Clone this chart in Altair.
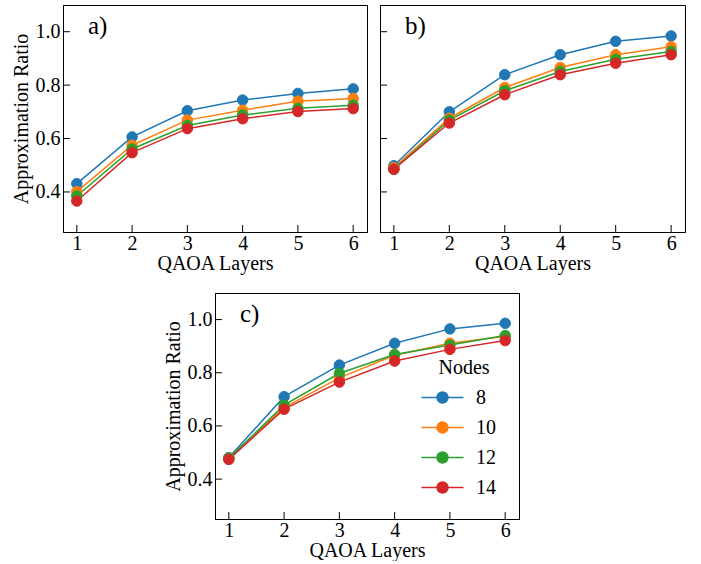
import altair as alt
import pandas as pd

FONT = "Liberation Serif"

layers = [1, 2, 3, 4, 5, 6]
node_counts = ["8", "10", "12", "14"]
colors = ["#1f77b4", "#ff7f0e", "#2ca02c", "#d62728"]
y_ticks = [0.4, 0.6, 0.8, 1.0]

ratio_a = {
    "8":  [0.431, 0.606, 0.704, 0.744, 0.769, 0.786],
    "10": [0.401, 0.575, 0.669, 0.706, 0.740, 0.750],
    "12": [0.385, 0.561, 0.649, 0.688, 0.713, 0.725],
    "14": [0.366, 0.547, 0.637, 0.674, 0.701, 0.712],
}
ratio_b = {
    "8":  [0.498, 0.700, 0.839, 0.914, 0.964, 0.984],
    "10": [0.491, 0.676, 0.791, 0.866, 0.914, 0.944],
    "12": [0.485, 0.669, 0.779, 0.851, 0.897, 0.926],
    "14": [0.485, 0.658, 0.764, 0.839, 0.882, 0.914],
}
ratio_c = {
    "8":  [0.481, 0.710, 0.829, 0.911, 0.965, 0.986],
    "10": [0.479, 0.669, 0.781, 0.866, 0.911, 0.937],
    "12": [0.478, 0.678, 0.798, 0.869, 0.904, 0.940],
    "14": [0.474, 0.663, 0.765, 0.844, 0.888, 0.921],
}

# legend glyph: a short line with a dot in the middle
LEGEND_GLYPH = ("M-2,0H2"
                "M0.52,0A0.52,0.52 0 1,1 -0.52,0A0.52,0.52 0 1,1 0.52,0Z")

TICK_LEN = 7


def long_table(ratios):
    rows = []
    for n in node_counts:
        for layer, r in zip(layers, ratios[n]):
            rows.append({"layer": layer, "ratio": r, "nodes": n})
    return pd.DataFrame(rows)


def panel(ratios, tag, width, height, y_labels=True, legend=False):
    df = long_table(ratios)
    x_axis = alt.Axis(values=layers, format="d", title="QAOA Layers",
                      labelPadding=1, titlePadding=0)
    y_axis = alt.Axis(values=y_ticks, format=".1f", labels=y_labels,
                      title="Approximation Ratio" if y_labels else None)
    x_scale = alt.Scale(domain=[0.75, 6.25], nice=False, zero=False)
    y_scale = alt.Scale(domain=[0.25, 1.1], nice=False, zero=False)
    x = alt.X("layer:Q", scale=x_scale, axis=x_axis)
    y = alt.Y("ratio:Q", scale=y_scale, axis=y_axis)

    color_scale = alt.Scale(domain=node_counts, range=colors)
    if legend:
        leg = alt.Legend(
            title="Nodes", orient="none", legendX=216, legendY=65,
            direction="vertical", symbolType=LEGEND_GLYPH, symbolSize=441,
            symbolStrokeWidth=1.5, labelOffset=22, rowPadding=8,
            titlePadding=8, padding=0, titleAnchor="middle",
            titleFont=FONT, titleFontSize=20, titleFontWeight="normal",
            titleColor="black", labelFont=FONT, labelFontSize=20,
            labelColor="black",
        )
    else:
        leg = None

    base = alt.Chart(df)
    lines = base.mark_line(strokeWidth=1.5).encode(
        x=x, y=y,
        stroke=alt.Stroke("nodes:N", scale=color_scale, legend=leg),
    )
    points = base.mark_point(filled=True, size=110, opacity=1,
                             strokeWidth=1).encode(
        x=x, y=y,
        fill=alt.Fill("nodes:N", scale=color_scale, legend=leg),
        stroke=alt.Stroke("nodes:N", scale=color_scale, legend=leg),
    )

    # inward-pointing ticks on the left and bottom spines
    ytick = alt.Chart(pd.DataFrame({"ratio": y_ticks})).mark_rule(
        color="black", strokeWidth=1).encode(
        y=y, x=alt.value(0), x2=alt.value(TICK_LEN))
    xtick = alt.Chart(pd.DataFrame({"layer": layers})).mark_rule(
        color="black", strokeWidth=1).encode(
        x=x, y=alt.value(height), y2=alt.value(height - TICK_LEN))

    label = alt.Chart(pd.DataFrame({"t": [tag]})).mark_text(
        font=FONT, fontSize=25, align="left", baseline="alphabetic",
        color="black").encode(text="t:N", x=alt.value(25), y=alt.value(29))

    return alt.layer(lines, points, ytick, xtick, label).properties(
        width=width, height=height)


a = panel(ratio_a, "a)", 304, 227)
b = panel(ratio_b, "b)", 305, 227, y_labels=False)
c = panel(ratio_c, "c)", 304, 226, legend=True)

spacer = alt.Chart(pd.DataFrame({"v": [0]})).mark_point(opacity=0).encode(
    x=alt.X("v:Q", axis=None), y=alt.Y("v:Q", axis=None)
).properties(width=98, height=10,
             view=alt.ViewBackground(stroke="transparent"))

indep = dict(x="independent", y="independent",
             stroke="independent", fill="independent")

top = alt.hconcat(a, b, spacing=11).resolve_scale(**indep)
bottom = alt.hconcat(spacer, c, spacing=0).resolve_scale(**indep)

chart = (
    alt.vconcat(top, bottom, spacing=18)
    .resolve_scale(**indep)
    .properties(padding={"left": 10, "top": 4, "right": 0, "bottom": 0},
                background="white")
    .configure_view(stroke="black", strokeWidth=1)
    .configure_axis(
        grid=False, ticks=False, domainColor="black", domainWidth=1,
        labelFont=FONT, labelFontSize=20, labelColor="black",
        labelPadding=3,
        titleFont=FONT, titleFontSize=20, titleFontWeight="normal",
        titleColor="black", titlePadding=4,
    )
)

chart.save("out.html", embed_options={"renderer": "svg", "actions": False})
